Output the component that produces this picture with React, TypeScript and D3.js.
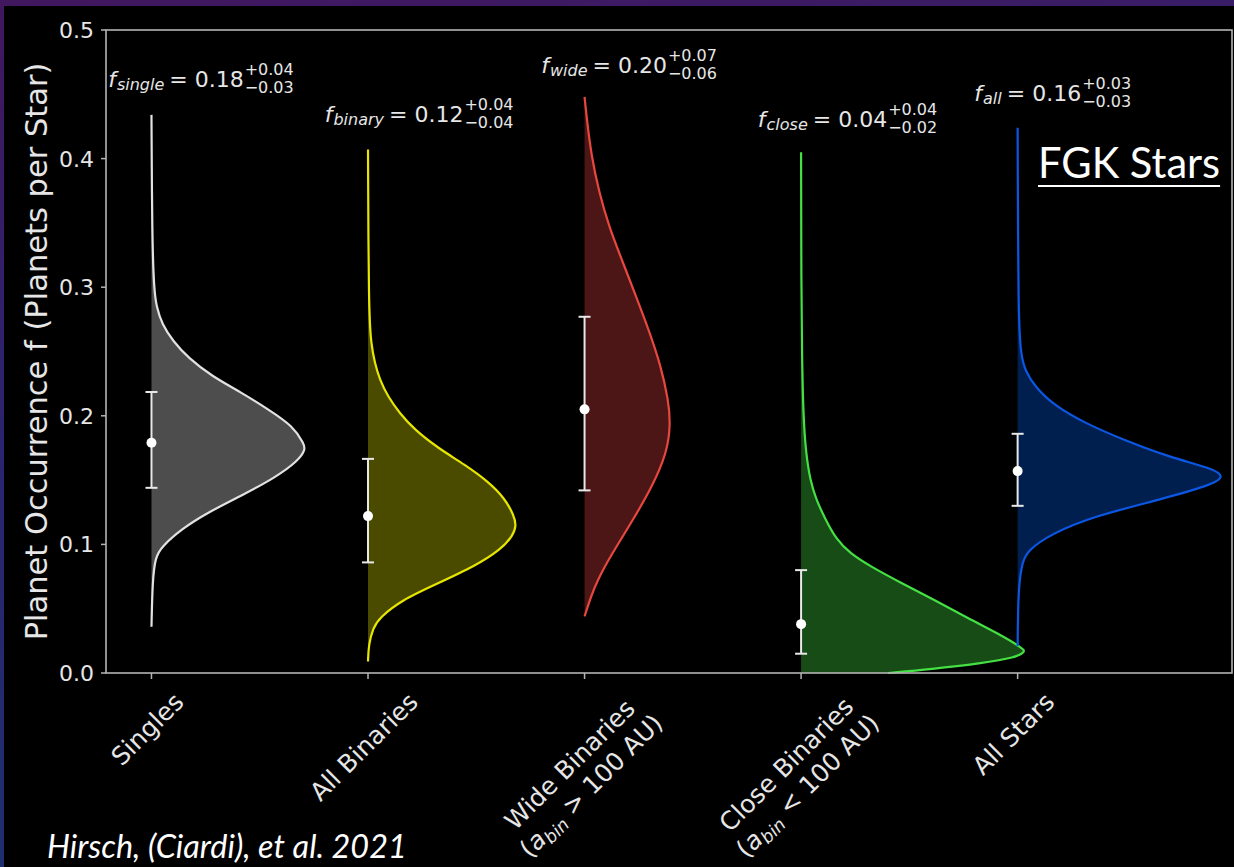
import React from 'react';
import * as d3 from 'd3';

// ---------------- DATA ----------------
const categories = ['Singles', 'All Binaries', 'Wide Binaries', 'Close Binaries', 'All Stars'];
const xLabelLines: string[][] = [
  ['Singles'],
  ['All Binaries'],
  ['Wide Binaries', '(a_bin > 100 AU)'],
  ['Close Binaries', '(a_bin < 100 AU)'],
  ['All Stars'],
];
const medians = [0.179, 0.122, 0.205, 0.038, 0.157];
const lowerErr = [0.144, 0.086, 0.142, 0.015, 0.130];
const upperErr = [0.2185, 0.1665, 0.277, 0.080, 0.186];
const fSubscripts = ['single', 'binary', 'wide', 'close', 'all'];
const fValues = ['0.18', '0.12', '0.20', '0.04', '0.16'];
const errPlus = ['+0.04', '+0.04', '+0.07', '+0.04', '+0.03'];
const errMinus = ['\u22120.03', '\u22120.04', '\u22120.06', '\u22120.02', '\u22120.03'];
const annotationY = [0.4557, 0.4285, 0.4666, 0.4245, 0.4448];
const yTicks = [0.0, 0.1, 0.2, 0.3, 0.4, 0.5];

// [occurrence f, half-violin width in category units]
const densitySingles: [number, number][] = [
  [0.434, 0], [0.338, 0.003], [0.298, 0.012], [0.285, 0.023], [0.271, 0.049], [0.258, 0.1],
  [0.245, 0.17], [0.231, 0.277], [0.218, 0.416], [0.205, 0.539], [0.192, 0.654], [0.178, 0.705],
  [0.174, 0.711], [0.165, 0.678], [0.1516, 0.568], [0.138, 0.416], [0.125, 0.262], [0.112, 0.139],
  [0.098, 0.046], [0.09, 0.018], [0.072, 0.005], [0.036, 0],
];
const densityBinaries: [number, number][] = [
  [0.407, 0], [0.281, 0.003], [0.255, 0.015], [0.2415, 0.031], [0.228, 0.054], [0.215, 0.092],
  [0.202, 0.146], [0.189, 0.216], [0.175, 0.323], [0.162, 0.447], [0.149, 0.554], [0.136, 0.631],
  [0.1225, 0.674], [0.1146, 0.685], [0.107, 0.67], [0.096, 0.614], [0.083, 0.493], [0.0697, 0.323],
  [0.0564, 0.152], [0.043, 0.054], [0.035, 0.023], [0.022, 0.003], [0.009, 0],
];
const densityWide: [number, number][] = [
  [0.448, 0], [0.4285, 0.012], [0.402, 0.032], [0.3745, 0.066], [0.3475, 0.112], [0.3206, 0.174],
  [0.2936, 0.236], [0.2666, 0.297], [0.2396, 0.351], [0.2126, 0.387], [0.1937, 0.397], [0.172, 0.382],
  [0.145, 0.313], [0.118, 0.22], [0.091, 0.12], [0.072, 0.059], [0.0587, 0.028], [0.044, 0],
];
const densityClose: [number, number][] = [
  [0.405, 0], [0.3, 0.001], [0.25, 0.004], [0.2, 0.01], [0.17, 0.023], [0.15, 0.042], [0.135, 0.069],
  [0.12, 0.111], [0.104, 0.162], [0.093, 0.226], [0.083, 0.319], [0.07, 0.462], [0.057, 0.614],
  [0.0425, 0.771], [0.0295, 0.924], [0.019, 1.025], [0.0166, 1.035], [0.012, 0.993], [0.0075, 0.831],
  [0.003, 0.6], [0.0, 0.402],
];
const densityAll: [number, number][] = [
  [0.424, 0], [0.275, 0.003], [0.248, 0.015], [0.235, 0.034], [0.222, 0.083], [0.208, 0.17],
  [0.1945, 0.308], [0.181, 0.493], [0.1676, 0.707], [0.1595, 0.891], [0.1528, 0.961], [0.146, 0.891],
  [0.135, 0.661], [0.122, 0.354], [0.108, 0.152], [0.095, 0.046], [0.087, 0.023], [0.068, 0.003],
  [0.021, 0],
];
const densities = [densitySingles, densityBinaries, densityWide, densityClose, densityAll];

// ---------------- STYLE ----------------
const lineColors = ['#e2e2e2', '#e6e600', '#e8473f', '#44e044', '#0b57e3'];
const fillColors = ['#4d4d4d', '#4b4b00', '#4c1616', '#174c17', '#001f4f'];
const W = 1234;
const H = 867;
const FONT = 'DejaVu Sans';

let ctx: CanvasRenderingContext2D | null = null;
function measure(text: string, size: number, italic = false, family = FONT): number {
  if (!ctx) ctx = document.createElement('canvas').getContext('2d');
  if (!ctx) return text.length * size * 0.6;
  ctx.font = `${italic ? 'italic ' : ''}${size}px "${family}"`;
  return ctx.measureText(text).width;
}

type Piece = { t: string; italic: boolean; sub: boolean };
function parseLine(s: string): Piece[] {
  const idx = s.indexOf('a_bin');
  if (idx < 0) return [{ t: s, italic: false, sub: false }];
  return [
    { t: s.slice(0, idx), italic: false, sub: false },
    { t: 'a', italic: true, sub: false },
    { t: 'bin', italic: true, sub: true },
    { t: s.slice(idx + 5), italic: false, sub: false },
  ];
}

export default function App() {
  const x = d3.scaleLinear().domain([-0.21, 4.99]).range([106, 1232]);
  const y = d3.scaleLinear().domain([0, 0.5]).range([673, 30]);
  const textColor = '#e6e6e6';
  const spineColor = '#b4b4b4';

  const tickFs = 22;
  const xFs = 25;
  const subFs = 17.5;
  const mainFs = 22;
  const scriptFs = 16;
  const curve = d3.curveBasis;

  return (
    <div style={{ position: 'absolute', left: 0, top: 0, width: W, height: H }}>
      <svg width={W} height={H} style={{ display: 'block' }}>
        <defs>
          <linearGradient id="bg" x1="0" y1="0" x2="0.2" y2="1">
            <stop offset="0" stopColor="#41175f" />
            <stop offset="0.5" stopColor="#2b2470" />
            <stop offset="1" stopColor="#1d2f70" />
          </linearGradient>
        </defs>
        <rect x={0} y={0} width={W} height={H} fill="url(#bg)" />
        <rect x={4} y={6} width={W - 4} height={H - 6} fill="#000" />

        {/* violins */}
        {densities.map((dens, i) => {
          const area = d3
            .area<[number, number]>()
            .y((d) => y(d[0]))
            .x0(() => x(i))
            .x1((d) => x(i + d[1]))
            .curve(curve);
          const line = d3
            .line<[number, number]>()
            .x((d) => x(i + d[1]))
            .y((d) => y(d[0]))
            .curve(curve);
          return (
            <g key={categories[i]}>
              <path d={area(dens) || ''} fill={fillColors[i]} stroke="none" />
              <path d={line(dens) || ''} fill="none" stroke={lineColors[i]} strokeWidth={2.2} />
            </g>
          );
        })}

        {/* error bars */}
        {categories.map((c, i) => {
          const cx = x(i);
          return (
            <g key={'eb' + c} stroke="#e8e8e8" strokeWidth={2}>
              <line x1={cx} x2={cx} y1={y(upperErr[i])} y2={y(lowerErr[i])} />
              <line x1={cx - 6} x2={cx + 6} y1={y(upperErr[i])} y2={y(upperErr[i])} />
              <line x1={cx - 6} x2={cx + 6} y1={y(lowerErr[i])} y2={y(lowerErr[i])} />
              <circle cx={cx} cy={y(medians[i])} r={5} fill="#ffffff" stroke="none" />
            </g>
          );
        })}

        {/* spines */}
        <rect x={106} y={30} width={1232 - 106} height={673 - 30} fill="none" stroke={spineColor} strokeWidth={1.6} />

        {/* y ticks */}
        {yTicks.map((t) => (
          <g key={'yt' + t}>
            <line x1={101} x2={106} y1={y(t)} y2={y(t)} stroke={spineColor} strokeWidth={1.5} />
            <text x={94} y={y(t)} dy="0.36em" textAnchor="end" fontFamily={FONT} fontSize={tickFs} fill={textColor}>
              {t.toFixed(1)}
            </text>
          </g>
        ))}

        {/* y label */}
        <text
          transform={`translate(47, ${(y(0) + y(0.5)) / 2}) rotate(-90)`}
          textAnchor="middle"
          fontFamily={FONT}
          fontSize={30.5}
          fill={textColor}
        >
          Planet Occurrence f (Planets per Star)
        </text>

        {/* x ticks + labels */}
        {categories.map((c, i) => {
          const cx = x(i);
          const lines = xLabelLines[i].map(parseLine);
          const widths = lines.map((ps) =>
            ps.reduce((s, p) => s + measure(p.t, p.sub ? subFs : xFs, p.italic), 0)
          );
          const bw = Math.max(...widths);
          const lh = xFs * 1.2;
          const bh = lines.length * lh;
          const half = (bw + bh) / (2 * Math.SQRT2);
          const top = 688;
          return (
            <g key={'xt' + c}>
              <line x1={cx} x2={cx} y1={673} y2={679} stroke={spineColor} strokeWidth={1.5} />
              <g transform={`translate(${cx - 3}, ${top + half}) rotate(-45)`}>
                {lines.map((ps, li) => (
                  <text
                    key={li}
                    x={-widths[li] / 2}
                    y={-bh / 2 + li * lh + xFs * 0.88}
                    fontFamily={FONT}
                    fontSize={xFs}
                    fill={textColor}
                  >
                    {ps.map((p, pi) => {
                      const prevSub = pi > 0 && ps[pi - 1].sub;
                      const dy = p.sub ? 5 : prevSub ? -5 : 0;
                      return (
                        <tspan
                          key={pi}
                          dy={dy}
                          fontSize={p.sub ? subFs : xFs}
                          fontStyle={p.italic ? 'italic' : 'normal'}
                          style={{ whiteSpace: 'pre' }}
                        >
                          {p.t}
                        </tspan>
                      );
                    })}
                  </text>
                ))}
              </g>
            </g>
          );
        })}

        {/* annotations */}
        {categories.map((c, i) => {
          const x0 = x(i - 0.2);
          const yb = y(annotationY[i]);
          const wf = measure('f', mainFs, true);
          const wsub = measure(fSubscripts[i], scriptFs, true);
          const eqText = '= ' + fValues[i];
          const weq = measure(eqText, mainFs);
          const xEq = x0 + wf + 1 + wsub + 5;
          const xScript = xEq + weq + 1;
          return (
            <g key={'an' + c} fontFamily={FONT} fill={textColor}>
              <text x={x0} y={yb} fontSize={mainFs} fontStyle="italic">f</text>
              <text x={x0 + wf + 1} y={yb + 3} fontSize={scriptFs} fontStyle="italic">{fSubscripts[i]}</text>
              <text x={xEq} y={yb} fontSize={mainFs} style={{ whiteSpace: 'pre' }}>{eqText}</text>
              <text x={xScript} y={yb - 12} fontSize={scriptFs}>{errPlus[i]}</text>
              <text x={xScript} y={yb + 6} fontSize={scriptFs}>{errMinus[i]}</text>
            </g>
          );
        })}

        {/* FGK Stars */}
        {(() => {
          const fs = 41.6;
          const w = measure('FGK Stars', fs, false, 'Lato');
          return (
            <g>
              <text x={1038} y={178} fontFamily="Lato" fontSize={fs} fill="#ffffff">FGK Stars</text>
              <line x1={1038} x2={1038 + w} y1={186} y2={186} stroke="#ffffff" strokeWidth={2} />
            </g>
          );
        })()}

        {/* citation */}
        <text x={47} y={858} fontFamily="Lato" fontStyle="italic" fontSize={32.4} fill="#ffffff">
          Hirsch, (Ciardi), et al. 2021
        </text>
      </svg>
    </div>
  );
}
